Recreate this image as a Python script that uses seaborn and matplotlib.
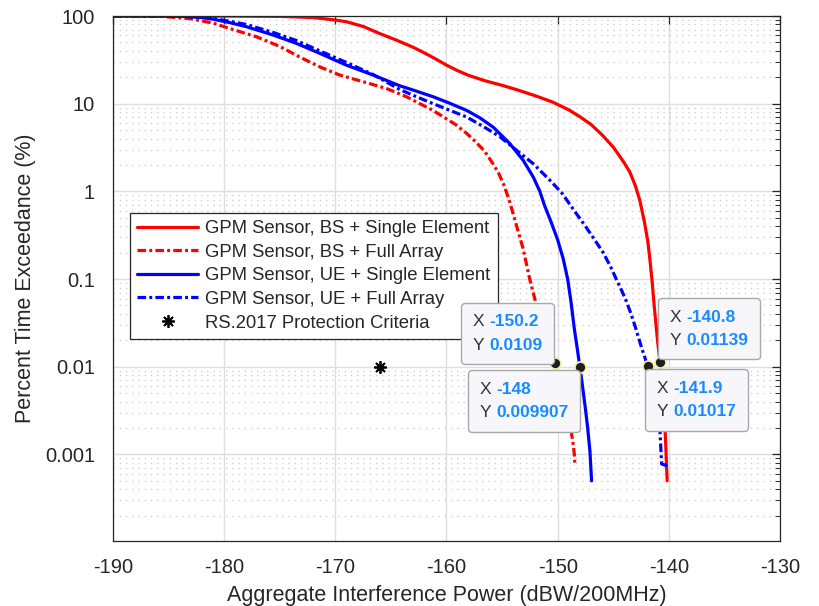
# gpm_interference_ccdf.py
# Percent time exceedance of aggregate interference power at the GPM sensor,
# BS / UE deployments with single-element and full-array antennas.

import numpy as np
import pandas as pd
import matplotlib
matplotlib.use("Agg")
import matplotlib.pyplot as plt
import seaborn as sns
from matplotlib.ticker import FixedLocator, LogLocator, NullFormatter, FuncFormatter
from matplotlib.lines import Line2D
from matplotlib.offsetbox import TextArea, HPacker, VPacker, AnnotationBbox

# --- data ------------------------------------------------------------------
bs_single_x = [-190, -180, -175, -172, -170, -169, -167.5, -166, -164.5, -163,
               -162, -161, -160, -159, -158, -156.5, -155, -153.5, -152, -150.5,
               -149, -148, -147, -146, -145, -144.5, -144, -143.5, -143, -142.6,
               -142.2, -141.9, -141.7, -141.5, -141.3, -141.0, -140.8, -140.6,
               -140.45, -140.3, -140.15]
bs_single_y = [100, 99.9, 99, 96, 90, 86, 76, 63, 53, 44,
               38, 32.5, 27.5, 23.8, 21, 18.2, 16.2, 14.2, 12.3, 10.5,
               8.5, 7.1, 5.8, 4.4, 3.2, 2.6, 2.1, 1.65, 1.15, 0.78,
               0.45, 0.275, 0.166, 0.093, 0.047, 0.019, 0.01139, 0.0065,
               0.0035, 0.0015, 0.0005]

bs_full_x = [-190, -187, -185.5, -183, -181, -179.5, -177.1, -175, -173.2, -171.4,
             -169.6, -167.5, -165.4, -163.6, -162.4, -161.3, -160.3, -159.2, -158.2,
             -157.4, -156.6, -155.8, -155.3, -154.8, -154.3, -153.8, -153.1, -152.5,
             -151.9, -151.3, -150.7, -150.2, -149.7, -149.2, -148.8, -148.6, -148.5,
             -148.45]
bs_full_y = [100, 99.7, 98.8, 93, 83, 72, 58, 45, 34, 26.3,
             21.2, 17.8, 14.9, 12, 10, 8.5, 7.1, 5.8, 4.6,
             3.7, 2.9, 2.05, 1.6, 1.15, 0.75, 0.45, 0.22, 0.098,
             0.05, 0.027, 0.017, 0.0109, 0.0065, 0.0035, 0.0019, 0.0013, 0.001,
             0.00074]

ue_single_x = [-190, -186, -184, -182, -181, -179.5, -178, -175.6, -173.5, -171.4,
               -169, -166.6, -164.2, -163, -161.2, -159.7, -158.2, -157, -155.8,
               -154.3, -153.1, -152.2, -151.6, -151.2, -150.6, -150, -149.5,
               -149.1, -148.8, -148.5, -148.25, -148, -147.75, -147.5, -147.3,
               -147.1, -146.95]
ue_single_y = [100, 99.8, 99.4, 96, 92, 84, 75.5, 60.7, 48.7, 37.5,
               27.5, 21.2, 16, 14.3, 12, 10.1, 8.4, 6.9, 5.4,
               3.5, 2.26, 1.46, 1.0, 0.7, 0.45, 0.28, 0.17,
               0.1, 0.055, 0.027, 0.0165, 0.009907, 0.0058, 0.0033, 0.002,
               0.0011, 0.0005]

ue_full_x = [-190, -186, -184, -182, -181, -179.5, -178, -175.6, -173.5, -171.4,
             -169, -166.6, -164.2, -162.7, -161.2, -159.7, -158.2, -156.7, -155.2,
             -153.7, -152.2, -150.7, -149.6, -148.5, -147.5, -146.5, -145.9, -145.2,
             -144.7, -144.2, -143.8, -143.4, -143.0, -142.45, -141.9, -141.5,
             -141.1, -140.8, -140.65, -140.15]
ue_full_y = [100, 99.8, 99.5, 97, 94, 87, 80, 65, 52.5, 40,
             29.5, 21.5, 14.5, 12, 10, 8.4, 7.06, 5.5, 4.2,
             2.94, 2.07, 1.34, 0.95, 0.6, 0.4, 0.26, 0.2, 0.135,
             0.098, 0.072, 0.055, 0.04, 0.028, 0.0165, 0.01017, 0.0062,
             0.0035, 0.0019, 0.00078, 0.00074]

series_names = ["GPM Sensor, BS + Single Element",
                "GPM Sensor, BS + Full Array",
                "GPM Sensor, UE + Single Element",
                "GPM Sensor, UE + Full Array"]
series_colors = ["#ff0000", "#ff0000", "#0000ff", "#0000ff"]
series_dashed = [False, True, False, True]

criteria_label = "RS.2017 Protection Criteria"
criteria_x = [-166]
criteria_y = [0.01]

# data tips: value, offset of the box from the point (pixels)
tip_x = [-150.2, -148, -140.8, -141.9]
tip_y = [0.0109, 0.009907, 0.01139, 0.01017]
tip_offsets = [(-48, 30), (-56, -34), (49, 33), (49, -34)]

y_ticks = [0.001, 0.01, 0.1, 1, 10, 100]
x_ticks = [-190, -180, -170, -160, -150, -140, -130]

# --- long table for seaborn ---------------------------------------------------
frames = []
for name, xs, ys in zip(series_names,
                        [bs_single_x, bs_full_x, ue_single_x, ue_full_x],
                        [bs_single_y, bs_full_y, ue_single_y, ue_full_y]):
    frames.append(pd.DataFrame({"power": xs, "pct": ys, "series": name}))
df = pd.concat(frames, ignore_index=True)

line_w = 2.3
dash_dot = (2.7, 1.0, 0.9, 1.0)
palette = dict(zip(series_names, series_colors))
dashes = {n: (dash_dot if d else "") for n, d in zip(series_names, series_dashed)}

sns.set_theme(style="white")
plt.rcParams["font.family"] = ["Liberation Sans", "DejaVu Sans"]
plt.rcParams["axes.unicode_minus"] = False

fig, ax = plt.subplots(figsize=(8.2, 6.06), dpi=100)
fig.subplots_adjust(left=113 / 820, right=780 / 820, top=1 - 16 / 606, bottom=1 - 541 / 606)

sns.lineplot(data=df, x="power", y="pct", hue="series", style="series",
             palette=palette, dashes=dashes, linewidth=line_w, sort=False,
             estimator=None, errorbar=None, legend=False, ax=ax)

ax.plot(criteria_x, criteria_y, linestyle="none", marker=(8, 2, 0),
        markersize=9, markeredgewidth=1.3, color="black", zorder=4)

ax.set_yscale("log")
ax.set_xlim(-190, -130)
ax.set_ylim(1.03e-4, 100)

ax.xaxis.set_major_locator(FixedLocator(x_ticks))
ax.yaxis.set_major_locator(FixedLocator(y_ticks))
ax.yaxis.set_major_formatter(FuncFormatter(lambda v, p: "%g" % v))
ax.yaxis.set_minor_locator(LogLocator(base=10, subs=np.arange(2, 10), numticks=20))
ax.yaxis.set_minor_formatter(NullFormatter())

ax.grid(True, which="major", axis="both", color="#dedede", linewidth=1.0, linestyle="-")
ax.grid(True, which="minor", axis="y", color="#c8c8c8", linewidth=0.9, linestyle=(0, (1, 4)))
ax.set_axisbelow(True)

for sp in ax.spines.values():
    sp.set_color("#262626")
    sp.set_linewidth(0.9)
ax.tick_params(which="both", direction="in", top=True, right=True, color="#262626")
ax.tick_params(which="major", length=6, width=0.9, labelsize=14.5, labelcolor="#262626")
ax.tick_params(which="minor", length=3.5, width=0.7)
ax.tick_params(axis="x", which="major", pad=12)
ax.tick_params(axis="y", which="major", pad=13)

ax.set_xlabel("Aggregate Interference Power (dBW/200MHz)", fontsize=15.5,
              color="#262626", labelpad=6)
ax.set_ylabel("Percent Time Exceedance (%)", fontsize=15.5, color="#262626", labelpad=6)

# legend
handles = []
for name, c, d in zip(series_names, series_colors, series_dashed):
    ls = (0, dash_dot) if d else "-"
    handles.append(Line2D([], [], color=c, linewidth=line_w, linestyle=ls, label=name))
handles.append(Line2D([], [], color="black", linestyle="none", marker=(8, 2, 0),
                      markersize=9, markeredgewidth=1.3, label=criteria_label))
leg = ax.legend(handles=handles, loc="upper left", bbox_to_anchor=(0.0255, 0.6248),
                borderaxespad=0, fontsize=13.3, frameon=True, fancybox=False,
                handlelength=3.3, handletextpad=0.4, labelspacing=0.36,
                borderpad=0.38)
leg.get_frame().set_edgecolor("#262626")
leg.get_frame().set_linewidth(0.9)
leg.get_frame().set_alpha(1)

# data tips
ax.plot(tip_x, tip_y, linestyle="none", marker="o", markersize=8,
        markerfacecolor="#1e1e1e", markeredgecolor="#f2f2b0", markeredgewidth=1.3,
        zorder=6)
for tx, ty, (dx, dy) in zip(tip_x, tip_y, tip_offsets):
    rows = []
    for key, val in (("X", tx), ("Y", ty)):
        k = TextArea(key, textprops=dict(color="#333333", fontsize=12.5))
        v = TextArea("%.4g" % val, textprops=dict(color="#1a8cff", fontsize=12.5,
                                                  fontweight="bold"))
        rows.append(HPacker(children=[k, v], align="baseline", pad=0, sep=4))
    box = VPacker(children=rows, align="left", pad=0, sep=6)
    ab = AnnotationBbox(box, (tx, ty), xybox=(dx, dy), boxcoords="offset pixels",
                        box_alignment=(0.5, 0.5), frameon=True, pad=0.75,
                        bboxprops=dict(boxstyle="round,pad=0.75,rounding_size=0.25",
                                       facecolor="#f7f7fb", edgecolor="#a8a8a8",
                                       linewidth=1.0))
    ab.set_zorder(7)
    ax.add_artist(ab)

fig.savefig("out.png", dpi=100)
